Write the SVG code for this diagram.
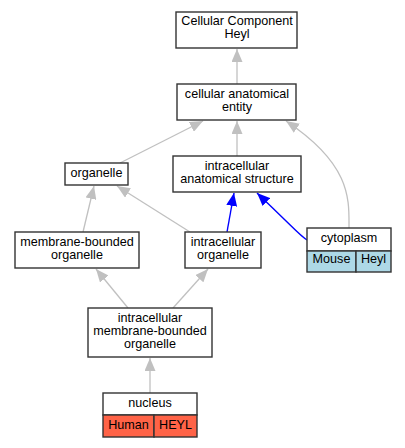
<svg xmlns="http://www.w3.org/2000/svg" width="405" height="448" viewBox="0 0 405 448">
<style>
.box{fill:#fff;stroke:#333;stroke-width:1.4}
.m{fill:#add8e6;stroke:#333;stroke-width:1.4}
.h{fill:#ff6347;stroke:#333;stroke-width:1.4}
text{font-family:"Liberation Sans",Arial,sans-serif;font-size:12.6px;fill:#000;text-anchor:middle}
.e{fill:none;stroke:#c0c0c0;stroke-width:1.3}
.b{fill:none;stroke:#0000ff;stroke-width:1.4}
</style>
<defs>
<marker id="ag" markerUnits="userSpaceOnUse" markerWidth="14" markerHeight="11" refX="13" refY="5.5" orient="auto"><path d="M0,0 L13,5.5 L0,11 z" fill="#c0c0c0"/></marker>
<marker id="ab" markerUnits="userSpaceOnUse" markerWidth="14" markerHeight="11" refX="13" refY="5.5" orient="auto"><path d="M0,0 L13,5.5 L0,11 z" fill="#0000ff"/></marker>
</defs>
<rect width="405" height="448" fill="#fff"/>
<g id="edges">
<path class="e" d="M237,84 L237,49" marker-end="url(#ag)"/>
<path class="e" d="M120,163 L203,121" marker-end="url(#ag)"/>
<path class="e" d="M237,156 L237,121" marker-end="url(#ag)"/>
<path class="e" d="M349,228 C349,200 352,165 286,121" marker-end="url(#ag)"/>
<path class="e" d="M83,232 L94,186" marker-end="url(#ag)"/>
<path class="e" d="M190,232 L117,186" marker-end="url(#ag)"/>
<path class="b" d="M227,232 L234,193" marker-end="url(#ab)"/>
<path class="b" d="M307,240 C300,236 296,230 257,193" marker-end="url(#ab)"/>
<path class="e" d="M128,308 L96,269" marker-end="url(#ag)"/>
<path class="e" d="M173,308 L208,269" marker-end="url(#ag)"/>
<path class="e" d="M150,393 L150,358" marker-end="url(#ag)"/>
</g>
<g id="n1"><rect class="box" x="176" y="12" width="121" height="36"/><text x="237" y="25">Cellular Component</text><text x="237" y="38">Heyl</text></g>
<g id="n2"><rect class="box" x="177" y="84" width="119" height="36"/><text x="237" y="98">cellular anatomical</text><text x="237" y="111">entity</text></g>
<g id="n3"><rect class="box" x="65" y="163" width="63" height="22"/><text x="96.5" y="177">organelle</text></g>
<g id="n4"><rect class="box" x="173" y="156" width="128" height="36"/><text x="237" y="170">intracellular</text><text x="237" y="183">anatomical structure</text></g>
<g id="n5"><rect class="box" x="307" y="228" width="84" height="23"/><text x="349" y="242">cytoplasm</text><rect class="m" x="307" y="251" width="49" height="21"/><text x="331.5" y="263">Mouse</text><rect class="m" x="356" y="251" width="35" height="21"/><text x="373.5" y="263">Heyl</text></g>
<g id="n6"><rect class="box" x="185" y="232" width="76" height="36"/><text x="223" y="246">intracellular</text><text x="223" y="259">organelle</text></g>
<g id="n7"><rect class="box" x="15" y="232" width="124" height="36"/><text x="77" y="246">membrane-bounded</text><text x="77" y="259">organelle</text></g>
<g id="n8"><rect class="box" x="88" y="308" width="124" height="49"/><text x="150" y="321.5">intracellular</text><text x="150" y="334.5">membrane-bounded</text><text x="150" y="347.5">organelle</text></g>
<g id="n9"><rect class="box" x="103" y="393" width="94" height="22"/><text x="150" y="407">nucleus</text><rect class="h" x="103" y="415" width="51" height="22"/><text x="128.5" y="428.5">Human</text><rect class="h" x="154" y="415" width="43" height="22"/><text x="175.5" y="428.5">HEYL</text></g>
</svg>
